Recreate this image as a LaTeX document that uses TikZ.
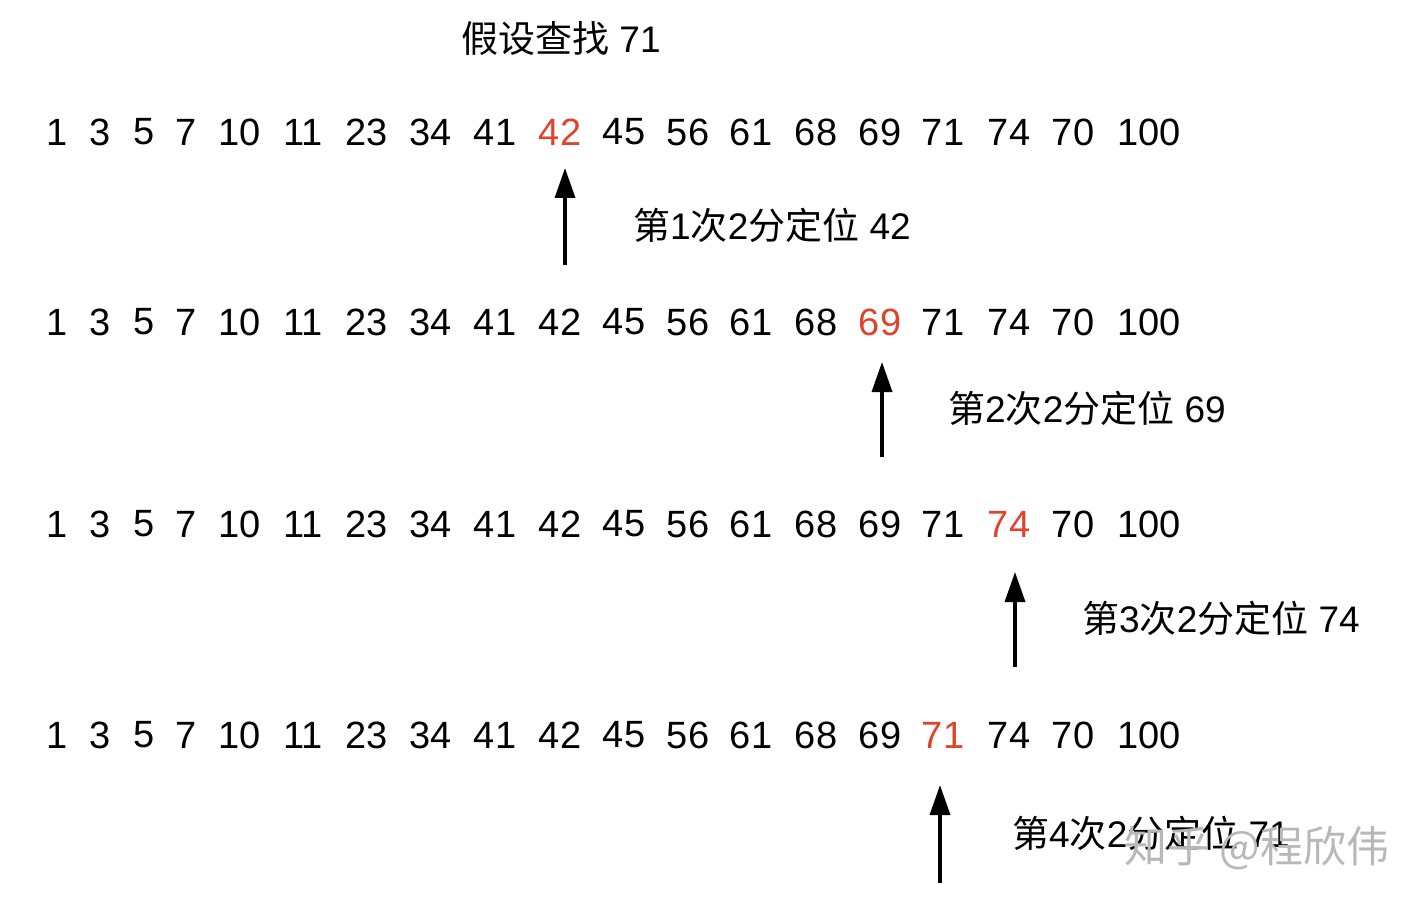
\documentclass[tikz,border=0pt]{standalone}
\usepackage{fontspec}
\setmainfont{Liberation Sans}
\newfontfamily\cjk{Noto Sans CJK SC}
\newcommand\zh[1]{{\cjk #1}}
\usetikzlibrary{arrows.meta}
\definecolor{hired}{RGB}{222,68,44}
\tikzset{
  num/.style={inner sep=0pt, anchor=center, font=\fontsize{38}{38}\selectfont},
  hit/.style={num, text=hired},
  lbl/.style={inner sep=0pt, anchor=west, font=\fontsize{37}{37}\selectfont},
  ttl/.style={inner sep=0pt, anchor=west, font=\fontsize{37}{37}\selectfont},
  arr/.style={line width=3.5pt, -{Triangle[length=30pt,width=20pt]}},
  wm/.style={inner sep=0pt, anchor=west, text=black!28, font=\cjk\fontsize{43}{43}\selectfont}
}
\begin{document}
\begin{tikzpicture}[x=1pt,y=-1pt]
\useasboundingbox (0,0) rectangle (1424,904);
\fill[white] (0,0) rectangle (1424,904);
\node[ttl] (title) at (461,38) {\zh{假设查找} 71};
\foreach \r/\y/\h in {1/132/10, 2/322/15, 3/524/17, 4/735/16}{
  \foreach \x/\v [count=\i] in {57/1,100/3,144/5,186/7,240/10,303/11,367/23,431/34,495/41,560/42,624/45,688/56,751/61,816/68,880/69,943/71,1009/74,1073/70,1149/100}{
    \ifnum\i=\h
      \node[hit] (r\r n\i) at (\x,\y) {\v};
    \else
      \node[num] (r\r n\i) at (\x,\y) {\v};
    \fi
  }
}
\coordinate (a1s) at (565,265); \coordinate (a1e) at (565,168);
\coordinate (a2s) at (882,457); \coordinate (a2e) at (882,362);
\coordinate (a3s) at (1015,667); \coordinate (a3e) at (1015,572);
\coordinate (a4s) at (940,883); \coordinate (a4e) at (940,785);
\draw[arr] (a1s) -- (a1e);
\draw[arr] (a2s) -- (a2e);
\draw[arr] (a3s) -- (a3e);
\draw[arr] (a4s) -- (a4e);
\node[lbl] (l1) at (633,225) {\zh{第}1\zh{次}2\zh{分定位} 42};
\node[lbl] (l2) at (948,408) {\zh{第}2\zh{次}2\zh{分定位} 69};
\node[lbl] (l3) at (1082,618) {\zh{第}3\zh{次}2\zh{分定位} 74};
\node[lbl] (l4) at (1012,833) {\zh{第}4\zh{次}2\zh{分定位} 71};
\node[wm] (wm) at (1124,848) {知乎 @程欣伟};
\end{tikzpicture}
\end{document}
